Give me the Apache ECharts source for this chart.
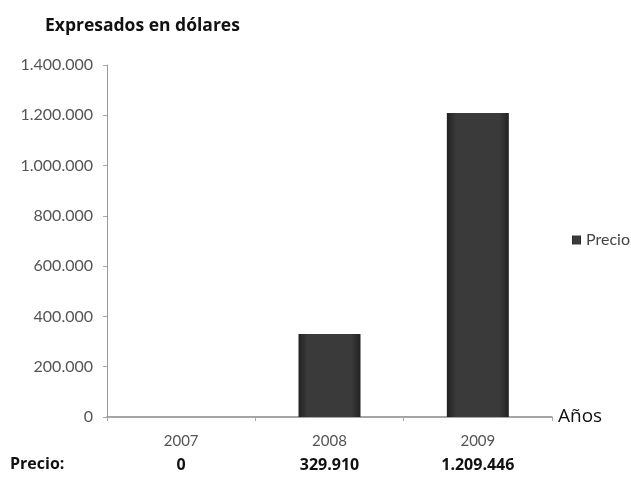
<!DOCTYPE html>
<html><head><meta charset="utf-8">
<script src="https://cdn.jsdelivr.net/npm/echarts@6/dist/echarts.min.js"></script>
<style>html,body{margin:0;padding:0;background:#fff}#c{width:631px;height:481px}</style>
</head><body><div id="c"></div>
<script>
const categories = ['2007', '2008', '2009'];
const precio = [0, 329910, 1209446];
const yTicks = [0, 200000, 400000, 600000, 800000, 1000000, 1200000, 1400000];

function fmt(v) {
  return String(v).replace(/\B(?=(\d{3})+(?!\d))/g, '.');
}

const chart = echarts.init(document.getElementById('c'));
chart.setOption({
  backgroundColor: '#fff',
  animation: false,
  title: {
    text: 'Expresados en dólares',
    left: 40, top: 12,
    textStyle: { fontFamily: 'Open Sans', fontSize: 17.5, fontWeight: 'bold', color: '#111' }
  },
  legend: {
    data: ['Precio'],
    left: 567, top: 227,
    icon: 'rect', itemWidth: 9, itemHeight: 9, itemGap: 4,
    textStyle: { fontFamily: 'Lato', fontSize: 16, color: '#444' }
  },
  grid: { left: 107, right: 79, top: 65, bottom: 64, containLabel: false },
  xAxis: {
    type: 'category',
    data: categories,
    name: 'Años',
    nameLocation: 'end',
    nameGap: 6,
    nameTextStyle: { fontFamily: 'Open Sans', fontSize: 19, color: '#111', verticalAlign: 'middle' },
    axisLine: { lineStyle: { color: '#888', width: 1.5 } },
    axisTick: { show: true, length: 4, lineStyle: { color: '#aaa' } },
    axisLabel: {
      margin: 12,
      formatter: function (val, idx) {
        return '{y|' + val + '}\n{v|' + fmt(precio[idx]) + '}';
      },
      rich: {
        y: { fontFamily: 'Lato', fontSize: 15, color: '#555', lineHeight: 24 },
        v: { fontFamily: 'Open Sans', fontSize: 16, fontWeight: 'bold', color: '#111', lineHeight: 24 }
      }
    }
  },
  yAxis: {
    type: 'value',
    min: 0, max: 1400000, interval: 200000,
    axisLine: { show: true, lineStyle: { color: '#999' } },
    axisTick: { show: true, length: 4, lineStyle: { color: '#aaa' } },
    splitLine: { show: false },
    axisLabel: {
      margin: 14,
      fontFamily: 'Lato', fontSize: 16, color: '#555',
      formatter: function (v) { return fmt(v); }
    }
  },
  graphic: [{
    type: 'text', left: 10, top: 456,
    style: { text: 'Precio:', fontFamily: 'Open Sans', fontSize: 16, fontWeight: 'bold', fill: '#111' }
  }],
  series: [{
    name: 'Precio',
    type: 'bar',
    data: precio,
    barWidth: 62,
    itemStyle: {
      color: new echarts.graphic.LinearGradient(0, 0, 1, 0, [
        { offset: 0, color: '#222' },
        { offset: 0.15, color: '#3a3a3a' },
        { offset: 0.85, color: '#3a3a3a' },
        { offset: 1, color: '#222' }
      ]),
      borderWidth: 0
    }
  }]
});
</script></body></html>
